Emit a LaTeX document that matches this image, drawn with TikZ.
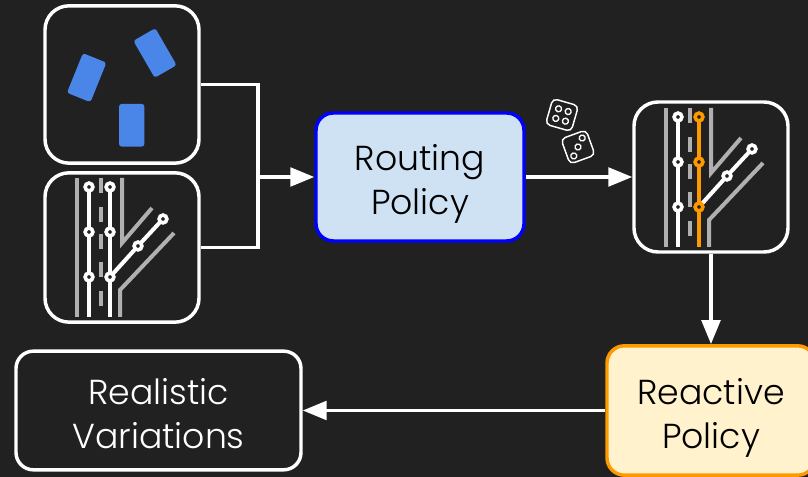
\documentclass[tikz,border=0pt]{standalone}
\usepackage{fontspec}
\setmainfont{Poppins}[UprightFont={* Light}]
\usetikzlibrary{arrows.meta,calc}
\definecolor{panel}{HTML}{212121}
\definecolor{carblue}{HTML}{4A86E8}
\definecolor{roadgray}{HTML}{B0B0B0}
\definecolor{planorange}{HTML}{FF9900}
\definecolor{routefill}{HTML}{CFE2F3}
\definecolor{reactfill}{HTML}{FFF2CC}
\tikzset{
  iconbox/.style={draw=white,line width=2.6pt,rounded corners=18pt,fill=panel,minimum width=115.5pt,inner sep=0pt},
  textbox/.style={line width=2.6pt,rounded corners=13pt,align=center,inner sep=0pt,font=\fontsize{26}{33}\selectfont},
  car/.style={fill=carblue,draw=none,rounded corners=2pt,minimum width=19pt,minimum height=32pt,inner sep=0pt},
  die/.style={draw=white,line width=1.1pt,rounded corners=3.5pt,fill=panel,minimum width=20pt,minimum height=20pt,inner sep=0pt},
  flow/.style={draw=white,line width=2.6pt},
  flowarrow/.style={flow,-{Triangle[length=18pt,width=14pt]}},
  road/.style={draw=roadgray,line width=3pt},
  stop/.style={line width=2.7pt,fill=panel},
  pip/.style={draw=white,line width=1pt}
}
% two lines of a box, with the same height and depth in every box
\newcommand{\twolines}[2]{\rule{0pt}{32pt}#1\\#2\rule[-8pt]{0pt}{8pt}}
% icon of the lanes, #1 is the colour of the chosen lane
\newcommand{\lanes}[1]{
  \draw [road] (0,0) -- (0,139);
  \foreach \y in {11,40,68,95,124} \draw [road] (24,\y) -- (24,\y+15);
  \draw [road] (45,139) -- (45,74) -- (75,109);
  \draw [road] (43,0) -- (43,27) -- (97,84);
  %
  \draw [white,line width=3pt] (33,40) -- (61,71) -- (86,98);
  \draw [white,line width=3pt] (12,0) -- (12,130);
  \draw [#1,line width=3pt] (33,0) -- (33,130);
  %
  \foreach \y in {40,85,130} {
    \draw [stop,white,fill=panel] (12,\y) circle [radius=3.9];
    \draw [stop,#1,fill=panel] (33,\y) circle [radius=3.9];
  }
  \draw [stop,white,fill=panel] (61,71) circle [radius=3.9];
  \draw [stop,white,fill=panel] (86,98) circle [radius=3.9];
}
\begin{document}
\begin{tikzpicture}[x=0.75pt,y=0.75pt]
\useasboundingbox [fill=panel] (0,0) rectangle (808,477);
% Inputs
\node [iconbox,minimum height=118pt] (carsbox) at (122,392.5) {};
\node [iconbox,minimum height=112pt] (mapbox) at (122,229.5) {};
\node [car,rotate=-22] (carleft) at (86.7,399.3) {};
\node [car,rotate=30] (carright) at (155,424) {};
\node [car] (carfront) at (131.7,351.7) {};
\begin{scope}[shift={(77,160)}]
\lanes{white}
\end{scope}
% Policies
\node [textbox,draw=blue,fill=routefill,text=black,minimum width=156pt,minimum height=96pt] (routing) at (420,300) {\twolines{Routing}{Policy}};
\node [iconbox,minimum height=112.5pt] (samplebox) at (711,300) {};
\begin{scope}[shift={(666,230)}]
\lanes{planorange}
\end{scope}
\node [textbox,draw=planorange,fill=reactfill,text=black,minimum width=156pt,minimum height=97pt] (reactive) at (711,66.5) {\twolines{Reactive}{Policy}};
\node [textbox,draw=white,fill=panel,text=white,minimum width=213.75pt,minimum height=89pt] (variations) at (158.5,66.5) {\twolines{Realistic}{Variations}};
% Dice
\node [die,rotate=-16] (dieone) at (562,362) {};
\foreach \a/\b in {-5/-5,5/-5,-5/5,5/5}
  \draw [pip,rotate around={-16:(dieone.center)}] ($(dieone.center)+(\a,\b)$) circle [radius=3];
\node [die,rotate=20] (dietwo) at (578,330) {};
\foreach \a/\b in {-7/-7,0/0,7/7}
  \draw [pip,rotate around={20:(dietwo.center)}] ($(dietwo.center)+(\a,\b)$) circle [radius=3];
% Connectors
\coordinate (junction) at (258,300);
\draw [flow] (carsbox.east) -| (junction);
\draw [flow] (mapbox.east) -| (junction);
\draw [flowarrow] (junction) -- (routing.west);
\draw [flowarrow] (routing.east) -- (samplebox.west);
\draw [flowarrow] (samplebox.south) -- (reactive.north);
\draw [flowarrow] (reactive.west) -- (variations.east);
\end{tikzpicture}
\end{document}
